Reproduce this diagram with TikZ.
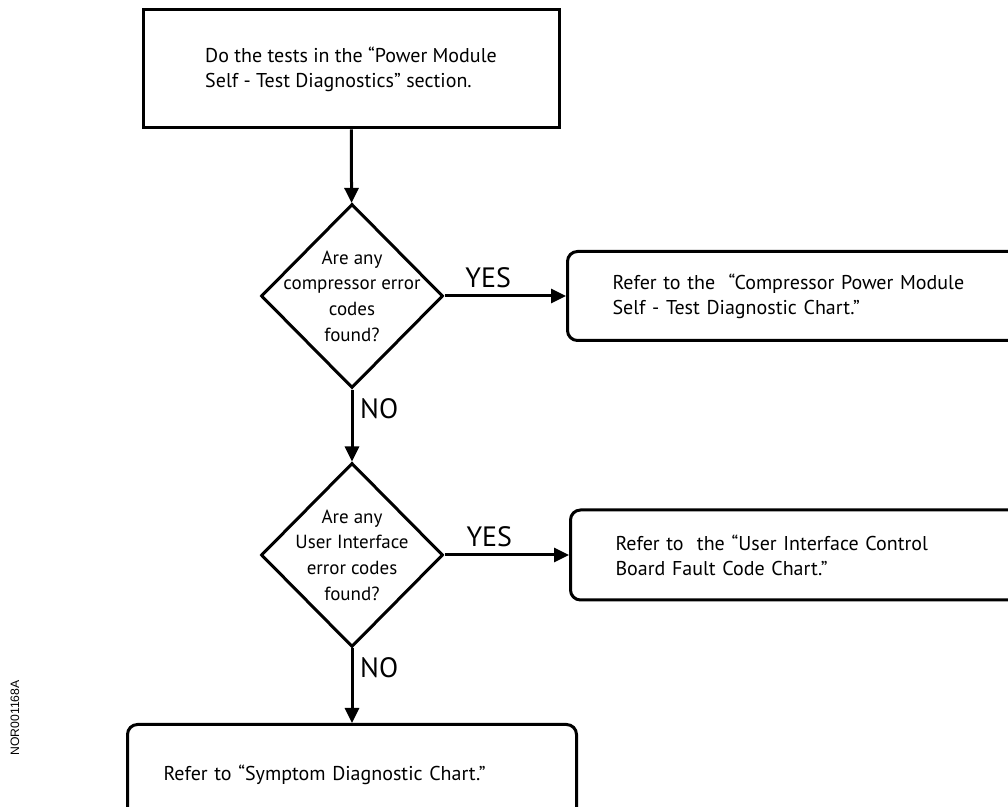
\documentclass[tikz,border=0pt]{standalone}
\usepackage{fontspec}
\setmainfont{PT Sans}
\newfontfamily\codefont{Liberation Sans}
\usetikzlibrary{
    shapes.geometric,
    arrows.meta,
    positioning
}

\begin{document}
\begin{tikzpicture}[x=0.5pt, y=-0.5pt, line width=1.5pt,
    >={Triangle[length=7.5pt, width=7pt]},
    every node/.style={font=\fontsize{10}{12.5}\selectfont},
    stepbox/.style={draw, rectangle, align=left, inner sep=0pt},
    chartbox/.style={draw, rectangle, rounded corners=5pt, align=left, inner sep=0pt},
    decision/.style={draw, diamond, minimum width=91pt, minimum height=92pt, inner sep=0pt},
    answer/.style={font=\fontsize{14}{14}\selectfont}]
                        \useasboundingbox (0,0) rectangle (1008,807);
                        \clip (0,0) rectangle (1008,807);
                        \node[stepbox, minimum width=208pt, minimum height=59pt] (test) at (351,69) {Do the tests in the “Power Module\\Self - Test Diagnostics” section.};
                        \node[decision, label={[align=center, font=\fontsize{9.5}{12.8}\selectfont]center:Are any\\compressor error\\codes\\found?}] (q1) at (352,296) {};
                        \node[chartbox, anchor=west, minimum width=237pt, minimum height=44.5pt, text width=192pt] (r1) at (566,296) {Refer to the~ “Compressor Power Module\\Self - Test Diagnostic Chart.”};
                        \node[decision, label={[align=center, font=\fontsize{9.5}{12.8}\selectfont]center:Are any\\User Interface\\error codes\\found?}] (q2) at (352,555) {};
                        \node[chartbox, anchor=west, minimum width=237pt, minimum height=45pt, text width=192pt] (r2) at (569,555) {Refer to~ the “User Interface Control\\Board Fault Code Chart.”};
                        \node[chartbox, anchor=north, minimum width=224.5pt, minimum height=50pt, text width=188.5pt] (sym) at (352,723) {Refer to “Symptom Diagnostic Chart.”};
                        \node[rotate=90, font=\codefont\fontsize{6.1}{6.1}\selectfont] (code) at (15,718) {NOR001168A};
                        \draw
                        (test) edge[->] (q1)
                        (q1) edge[->] node[answer, above, pos=0.36]{YES} (r1)
                        (q1) edge[->] node[answer, right, pos=0.27]{NO} (q2)
                        (q2) edge[->] node[answer, above, pos=0.36]{YES} (r2)
                        (q2) edge[->] node[answer, right, pos=0.26]{NO} (sym);
\end{tikzpicture}
\end{document}
